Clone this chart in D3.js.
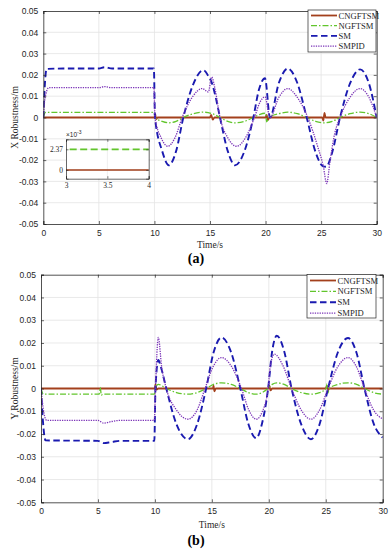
<!DOCTYPE html>
<html><head><meta charset="utf-8">
<script src="https://cdn.jsdelivr.net/npm/d3@7"></script>
<style>body{margin:0;background:#fff}svg{display:block}</style>
</head><body><svg id="c" width="392" height="550"></svg>
<script>
// ---------- data ----------
const seriesNames = ["CNGFTSM", "NGFTSM", "SM", "SMPID"];
const xTicks = [0, 5, 10, 15, 20, 25, 30];
const yTicks = [-0.05, -0.04, -0.03, -0.02, -0.01, 0, 0.01, 0.02, 0.03, 0.04, 0.05];
const insetXTicks = [3, 3.5, 4];
const insetYTicks = [0, 0.00237];
const insetYTickLabels = ["0", "2.37"];

// Panel (a): X robustness  [time s, value m]
const X_CNGFTSM = [[0,0],[10,0],[10.08,0.0015],[10.15,-0.0008],[10.3,0],[15.0,0],[15.1,0.0012],[15.25,-0.001],[15.4,0],[20.0,0],[20.1,0.0012],[20.2,-0.0012],[20.35,0],[25.1,0],[25.2,-0.0015],[25.3,0.0022],[25.4,0],[30,0]];
const X_NGFTSM = [[0,0],[0.2,0.00237],[9.95,0.00237],[10.05,0],[10.7,-0.0018],[11.3,-0.0025],[11.95,-0.0018],[12.6,0],[13.5,0.0018],[14.4,0.0025],[15.2,0.0018],[15.9,0],[16.6,-0.0018],[17.25,-0.0025],[18.1,-0.0018],[18.9,0],[19.5,0.0015],[20.0,0.002],[20.1,-0.002],[20.3,0],[21.2,0.0018],[22,0.0025],[22.85,0.0018],[23.7,0],[24.5,-0.0018],[25.3,-0.0025],[26,-0.0018],[26.7,0],[27.6,0.0018],[28.5,0.0025],[29.3,0.0018],[30,0]];
const X_SM = [[0,0],[0.1,0.012],[0.3,0.0228],[2,0.023],[5,0.023],[5.5,0.0236],[6.2,0.023],[9.95,0.023],[10.05,0],[10.7,-0.0158],[11.3,-0.0224],[11.95,-0.0158],[12.6,0],[13.5,0.0157],[14.4,0.0222],[14.9,0.019],[15.15,0.0165],[15.4,0.012],[15.9,0],[16.6,-0.0158],[17.25,-0.0224],[18.1,-0.0158],[18.9,0],[19.4,0.013],[19.95,0.0184],[20.4,0],[21.2,0.0163],[22.0,0.023],[22.85,0.0163],[23.7,0],[24.5,-0.0163],[25.15,-0.0228],[25.45,-0.0231],[26.0,-0.0163],[26.7,0],[27.6,0.016],[28.5,0.0226],[29.3,0.016],[30,0]];
const X_SMPID = [[0,0],[0.15,0.009],[0.5,0.014],[5,0.014],[5.5,0.0145],[6.2,0.014],[9.95,0.014],[10.05,0],[10.6,-0.0095],[11.2,-0.0135],[11.85,-0.0095],[12.5,0],[13.4,0.0095],[14.3,0.0136],[14.85,0.012],[15.15,0.019],[15.45,0.0135],[15.9,0],[16.6,-0.0095],[17.4,-0.0135],[18.2,-0.0095],[19.0,0],[19.5,0.0072],[19.95,0.0097],[20.4,0],[21.2,0.0095],[22.0,0.0136],[22.85,0.0095],[23.8,0],[24.7,-0.0138],[25.2,-0.023],[25.5,-0.031],[25.8,-0.0205],[26.2,-0.008],[26.7,0],[27.6,0.0095],[28.5,0.0136],[29.3,0.0095],[30,0]];

// Panel (b): Y robustness
const Y_CNGFTSM = [[0,0],[10,0],[10.05,0.0018],[10.15,-0.0005],[10.3,0],[15.1,0],[15.15,0.0012],[15.22,-0.0012],[15.35,0],[20.0,0],[20.05,0.0012],[20.15,-0.0008],[20.3,0],[25.0,0],[25.1,0.0012],[25.2,-0.0008],[25.3,0],[30,0]];
const Y_NGFTSM = [[0,0],[0.2,-0.0025],[5.1,-0.0025],[5.2,0.0005],[5.3,-0.003],[5.4,-0.0025],[9.95,-0.0025],[10.1,0.001],[10.3,0.0018],[11.0,0],[11.9,-0.0018],[12.9,-0.0025],[13.7,-0.0018],[14.5,0],[15.15,0.0018],[15.85,0.0025],[16.7,0.0018],[17.5,0],[18.2,-0.0018],[18.9,-0.0025],[19.4,-0.0018],[19.94,0],[20.3,0.0018],[20.7,0.0025],[21.35,0.0018],[22,0],[22.85,-0.0018],[23.7,-0.0025],[24.45,-0.0018],[25.05,0],[25.1,0.002],[25.2,-0.002],[25.3,0],[26.05,0.0018],[26.95,0.0025],[27.7,0.0018],[28.4,0],[29.2,-0.0018],[30,-0.0025]];
const Y_SM = [[0,0],[0.15,-0.013],[0.4,-0.0228],[5,-0.023],[5.5,-0.024],[6.2,-0.0235],[7,-0.023],[9.95,-0.023],[10.05,0],[10.3,0.0125],[10.55,0.009],[11.0,0],[11.9,-0.0158],[12.9,-0.0223],[13.7,-0.0158],[14.5,0],[15.15,0.0158],[15.85,0.0224],[16.7,0.0158],[17.5,0],[18.2,-0.0155],[18.9,-0.0218],[19.4,-0.0155],[19.94,0],[20.3,0.0165],[20.7,0.0232],[21.35,0.0164],[22.0,0],[22.85,-0.0158],[23.7,-0.0223],[24.45,-0.0158],[25.2,0],[26.05,0.0157],[26.95,0.0222],[27.7,0.0157],[28.4,0],[29.2,-0.0153],[30,-0.0216]];
const Y_SMPID = [[0,0],[0.2,-0.009],[0.5,-0.014],[5,-0.014],[5.5,-0.0152],[6.2,-0.0145],[7,-0.014],[9.95,-0.014],[10.05,0],[10.3,0.0224],[10.6,0.0092],[11.0,0],[11.9,-0.0095],[12.9,-0.0135],[13.7,-0.0095],[14.4,0],[15.1,0.0095],[15.85,0.0136],[16.75,0.0095],[17.6,0],[18.25,-0.0095],[18.9,-0.0135],[19.4,-0.0105],[19.94,0],[20.15,0.0105],[20.5,0.0151],[21.2,0.0105],[22.0,0],[22.85,-0.0095],[23.7,-0.0135],[24.45,-0.0095],[25.2,0],[26.05,0.0095],[26.95,0.0136],[27.7,0.0095],[28.4,0],[29.2,-0.0095],[30,-0.0134]];

// ---------- styles ----------
const colors = {CNGFTSM: "#a3401c", NGFTSM: "#62c52c", SM: "#1a1ab0", SMPID: "#7b34b8"};
const dashes = {CNGFTSM: null, NGFTSM: "6,2,1.5,2", SM: "6.5,3.5", SMPID: "1.3,1.1"};
const widths = {CNGFTSM: 1.8, NGFTSM: 1.3, SM: 1.9, SMPID: 1.3};
const tickFont = "'Liberation Sans', Arial, sans-serif";
const serif = "'Liberation Serif', 'Times New Roman', serif";
const axisColor = "#262626";

const svg = d3.select("#c");

function panel(cfg) {
  const g = svg.append("g");
  const x = d3.scaleLinear().domain([0, 30]).range([cfg.L, cfg.R]);
  const y = d3.scaleLinear().domain([-0.05, 0.05]).range([cfg.B, cfg.T]);
  // grid
  g.append("g").selectAll("line").data(xTicks.slice(1, -1)).join("line")
    .attr("x1", d => x(d)).attr("x2", d => x(d)).attr("y1", cfg.T).attr("y2", cfg.B)
    .attr("stroke", "#e3e3e3").attr("stroke-width", 0.8);
  g.append("g").selectAll("line").data(yTicks.slice(1, -1)).join("line")
    .attr("y1", d => y(d)).attr("y2", d => y(d)).attr("x1", cfg.L).attr("x2", cfg.R)
    .attr("stroke", "#e3e3e3").attr("stroke-width", 0.8);

  const clipId = "clip" + cfg.id;
  svg.append("defs").append("clipPath").attr("id", clipId).append("rect")
    .attr("x", cfg.L).attr("y", cfg.T).attr("width", cfg.R - cfg.L).attr("height", cfg.B - cfg.T);

  const line = d3.line().x(d => x(d[0])).y(d => y(d[1])).curve(d3.curveMonotoneX);
  const lg = g.append("g").attr("clip-path", `url(#${clipId})`);
  seriesNames.forEach(n => {
    lg.append("path").attr("d", line(cfg.data[n])).attr("fill", "none")
      .attr("stroke", colors[n]).attr("stroke-width", widths[n])
      .attr("stroke-dasharray", dashes[n]).attr("stroke-linejoin", "round");
  });

  // axes with inward ticks (MATLAB style)
  const ax = d3.axisBottom(x).tickValues(xTicks).tickSize(-3).tickPadding(6).tickFormat(d3.format("d"));
  const ay = d3.axisLeft(y).tickValues(yTicks).tickSize(-3).tickPadding(5)
    .tickFormat(v => Math.abs(v) < 1e-12 ? "0" : d3.format(".2f")(v).replace("\u2212", "-"));
  const axT = d3.axisTop(x).tickValues(xTicks).tickSize(-3).tickFormat("");
  const ayR = d3.axisRight(y).tickValues(yTicks).tickSize(-3).tickFormat("");
  const gx = g.append("g").attr("transform", `translate(0,${cfg.B})`).call(ax);
  const gy = g.append("g").attr("transform", `translate(${cfg.L},0)`).call(ay);
  const gxt = g.append("g").attr("transform", `translate(0,${cfg.T})`).call(axT);
  const gyr = g.append("g").attr("transform", `translate(${cfg.R},0)`).call(ayR);
  [gx, gy, gxt, gyr].forEach(a => {
    a.selectAll(".domain").attr("stroke", axisColor).attr("stroke-width", 0.8);
    a.selectAll(".tick line").attr("stroke", axisColor).attr("stroke-width", 0.7);
    a.selectAll("text").attr("fill", axisColor).attr("font-family", tickFont).attr("font-size", 8.5);
  });

  // labels
  g.append("text").attr("x", (cfg.L + cfg.R) / 2).attr("y", cfg.B + cfg.timeDy)
    .attr("text-anchor", "middle").attr("font-family", serif).attr("font-size", 9.5)
    .attr("fill", axisColor).text("Time/s");
  g.append("text").attr("transform", `translate(17.5,${(cfg.T + cfg.B) / 2}) rotate(-90)`)
    .attr("text-anchor", "middle").attr("font-family", serif).attr("font-size", 9.5)
    .attr("fill", axisColor).text(cfg.yLabel);
  g.append("text").attr("x", 196).attr("y", cfg.B + cfg.subDy).attr("text-anchor", "middle")
    .attr("font-family", serif).attr("font-size", 14).attr("font-weight", "bold")
    .attr("fill", "#000").text(cfg.sub);

  // legend
  const lb = cfg.legend;
  const leg = g.append("g");
  leg.append("rect").attr("x", lb.x).attr("y", lb.y).attr("width", lb.w).attr("height", lb.h)
    .attr("fill", "#fff").attr("stroke", axisColor).attr("stroke-width", 0.7);
  seriesNames.forEach((n, i) => {
    const yy = lb.y + lb.first + i * lb.step;
    leg.append("line").attr("x1", lb.x + 3).attr("x2", lb.x + 29).attr("y1", yy).attr("y2", yy)
      .attr("stroke", colors[n]).attr("stroke-width", widths[n]).attr("stroke-dasharray", dashes[n]);
    leg.append("text").attr("x", lb.x + 30.5).attr("y", yy + 3).attr("font-family", serif)
      .attr("font-size", 8.6).attr("fill", axisColor).text(n);
  });
  return {x, y};
}

panel({id: "a", L: 43.3, R: 376.7, T: 11, B: 224, yLabel: "X Robustness/m", sub: "(a)",
  timeDy: 24, subDy: 39,
  data: {CNGFTSM: X_CNGFTSM, NGFTSM: X_NGFTSM, SM: X_SM, SMPID: X_SMPID},
  legend: {x: 308, y: 10, w: 68, h: 42, first: 5.5, step: 10.2}});
panel({id: "b", L: 41, R: 382.7, T: 274.7, B: 502.3, yLabel: "Y Robustness/m", sub: "(b)",
  timeDy: 25.2, subDy: 42.5,
  data: {CNGFTSM: Y_CNGFTSM, NGFTSM: Y_NGFTSM, SM: Y_SM, SMPID: Y_SMPID},
  legend: {x: 307, y: 274.5, w: 69, h: 43.5, first: 6, step: 10.9}});

// ---------- inset in panel (a) ----------
(function inset() {
  const I = {L: 66, R: 148.7, T: 139.3, B: 178.7};
  const g = svg.append("g");
  const x = d3.scaleLinear().domain([3, 4]).range([I.L, I.R]);
  const y = d3.scaleLinear().domain([-0.001, 0.00352]).range([I.B, I.T]);
  g.append("rect").attr("x", I.L).attr("y", I.T).attr("width", I.R - I.L).attr("height", I.B - I.T)
    .attr("fill", "#fff");
  g.append("g").selectAll("line").data([3.5]).join("line")
    .attr("x1", d => x(d)).attr("x2", d => x(d)).attr("y1", I.T).attr("y2", I.B)
    .attr("stroke", "#e6e6e6").attr("stroke-width", 0.7);
  g.append("g").selectAll("line").data(insetYTicks).join("line")
    .attr("y1", d => y(d)).attr("y2", d => y(d)).attr("x1", I.L).attr("x2", I.R)
    .attr("stroke", "#e6e6e6").attr("stroke-width", 0.7);
  svg.append("defs").append("clipPath").attr("id", "clipInset").append("rect")
    .attr("x", I.L).attr("y", I.T).attr("width", I.R - I.L).attr("height", I.B - I.T);
  const line = d3.line().x(d => x(d[0])).y(d => y(d[1])).curve(d3.curveMonotoneX);
  const lg = g.append("g").attr("clip-path", "url(#clipInset)");
  lg.append("path").attr("d", line(X_CNGFTSM)).attr("fill", "none")
    .attr("stroke", colors.CNGFTSM).attr("stroke-width", 1.6);
  lg.append("path").attr("d", line(X_NGFTSM)).attr("fill", "none")
    .attr("stroke", colors.NGFTSM).attr("stroke-width", 1.8).attr("stroke-dasharray", "7,3.5");

  const ax = d3.axisBottom(x).tickValues(insetXTicks).tickSize(-2.5).tickPadding(4)
    .tickFormat(d => d3.format("")(d));
  const ay = d3.axisLeft(y).tickValues(insetYTicks).tickSize(-2.5).tickPadding(3)
    .tickFormat((d, i) => insetYTickLabels[i]);
  const axT = d3.axisTop(x).tickValues(insetXTicks).tickSize(-2.5).tickFormat("");
  const ayR = d3.axisRight(y).tickValues(insetYTicks).tickSize(-2.5).tickFormat("");
  const parts = [
    g.append("g").attr("transform", `translate(0,${I.B})`).call(ax),
    g.append("g").attr("transform", `translate(${I.L},0)`).call(ay),
    g.append("g").attr("transform", `translate(0,${I.T})`).call(axT),
    g.append("g").attr("transform", `translate(${I.R},0)`).call(ayR)];
  parts.forEach(a => {
    a.selectAll(".domain").attr("stroke", axisColor).attr("stroke-width", 0.7);
    a.selectAll(".tick line").attr("stroke", axisColor).attr("stroke-width", 0.6);
    a.selectAll("text").attr("fill", axisColor).attr("font-family", serif).attr("font-size", 7.5);
  });
  const t = g.append("text").attr("x", I.L).attr("y", I.T - 2.5).attr("font-family", tickFont)
    .attr("font-size", 6.5).attr("fill", axisColor);
  t.append("tspan").text("\u00d710");
  t.append("tspan").attr("dy", -2.5).attr("font-size", 5).text("-3");
})();
</script>
</body></html>
